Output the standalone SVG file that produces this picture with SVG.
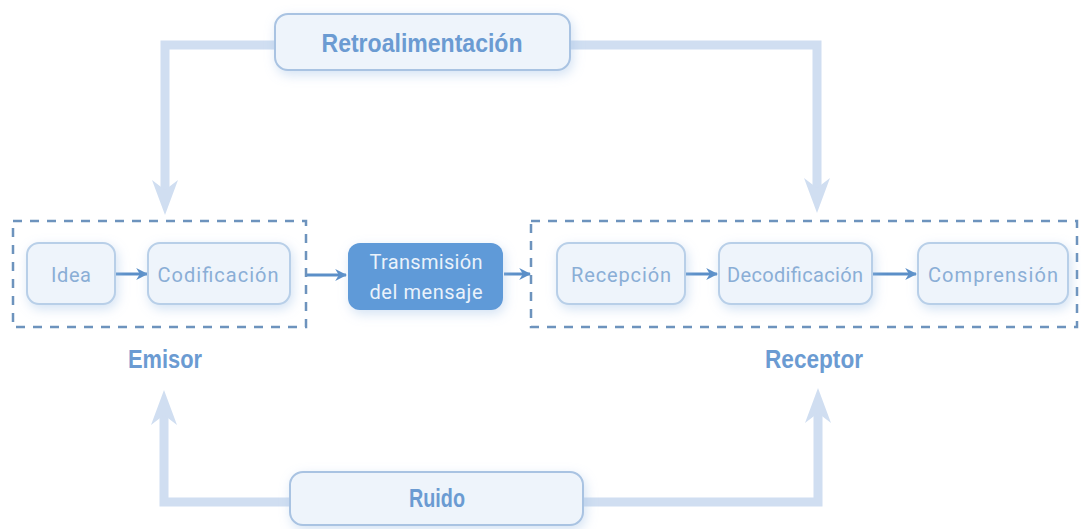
<svg xmlns="http://www.w3.org/2000/svg" width="1081" height="529" viewBox="0 0 1081 529">
<defs>
<filter id="glow" x="-30%" y="-40%" width="160%" height="180%">
<feGaussianBlur in="SourceAlpha" stdDeviation="6"/>
<feOffset dx="2" dy="4" result="b"/>
<feFlood flood-color="#9ebfe6" flood-opacity="0.45"/>
<feComposite in2="b" operator="in"/>
<feMerge><feMergeNode/><feMergeNode in="SourceGraphic"/></feMerge>
</filter>
<marker id="ah" viewBox="0 0 10 10" refX="9" refY="5" markerWidth="4" markerHeight="4" orient="auto" markerUnits="strokeWidth">
<path d="M0,0 L10,5 L0,10 L3,5 Z" fill="#5b8fc8"/>
</marker>
<style>
.big{fill:none;stroke:#d0def1;stroke-width:9}
.head{fill:#d0def1}
.small{fill:none;stroke:#5b8fc8;stroke-width:3;marker-end:url(#ah)}
.dash{fill:none;stroke:#6d93bd;stroke-width:2.5;stroke-dasharray:9 8}
.node{fill:#eef4fb;stroke:#b8cfe8;stroke-width:2;filter:url(#glow)}
.big-node{fill:#eef4fb;stroke:#a9c3e2;stroke-width:2;filter:url(#glow)}
.lbl{font-family:Roboto,"Liberation Sans",sans-serif;font-size:20px;fill:#8aaed6;text-anchor:middle}
.ttl{font-family:"Liberation Sans",Arial,sans-serif;font-weight:bold;font-size:25px;fill:#6b9bd2;text-anchor:middle}
</style>
</defs>
<rect width="1081" height="529" fill="#ffffff"/>
<g id="connectors">
<path class="big" d="M275,45 H165 V192"/>
<polygon class="head" points="165,215 152,180 165,190 178,180"/>
<path class="big" d="M570,45 H817 V190"/>
<polygon class="head" points="817,213 804,178 817,188 830,178"/>
<path class="big" d="M290,502 H164 V412"/>
<polygon class="head" points="164,390 151,425 164,415 177,425"/>
<path class="big" d="M583,502 H818 V412"/>
<polygon class="head" points="818,388 805,423 818,413 831,423"/>
<line class="small" x1="116" y1="274" x2="147" y2="274"/>
<line class="small" x1="307" y1="275" x2="346" y2="275"/>
<line class="small" x1="504" y1="274" x2="530" y2="274"/>
<line class="small" x1="686" y1="274" x2="717" y2="274"/>
<line class="small" x1="873" y1="274" x2="916" y2="274"/>
</g>
<g id="emisor-group">
<rect class="dash" x="13" y="221" width="293" height="106"/>
<text class="ttl" x="165" y="368" textLength="74" lengthAdjust="spacingAndGlyphs">Emisor</text>
</g>
<g id="receptor-group">
<rect class="dash" x="531" y="221" width="546" height="106"/>
<text class="ttl" x="814" y="368" textLength="98" lengthAdjust="spacingAndGlyphs">Receptor</text>
</g>
<g id="retroalimentacion">
<rect class="big-node" x="275" y="14" width="295" height="56" rx="13"/>
<text class="ttl" x="422" y="52" font-size="26" textLength="201" lengthAdjust="spacingAndGlyphs">Retroalimentación</text>
</g>
<g id="ruido">
<rect class="big-node" x="290" y="472" width="293" height="53" rx="13"/>
<text class="ttl" x="437" y="507" textLength="56" lengthAdjust="spacingAndGlyphs">Ruido</text>
</g>
<g id="idea">
<rect class="node" x="27" y="243" width="88" height="61" rx="12"/>
<text class="lbl" x="71" y="282" textLength="40">Idea</text>
</g>
<g id="codificacion">
<rect class="node" x="148" y="243" width="142" height="61" rx="12"/>
<text class="lbl" x="218" y="282" textLength="121">Codificación</text>
</g>
<g id="transmision">
<rect x="348" y="243" width="155" height="67" rx="12" fill="#5f9ad8" filter="url(#glow)"/>
<text class="lbl" x="426" y="269" style="fill:#eaf2fb" textLength="113">Transmisión</text>
<text class="lbl" x="426" y="299" style="fill:#eaf2fb" textLength="113">del mensaje</text>
</g>
<g id="recepcion">
<rect class="node" x="557" y="243" width="128" height="61" rx="12"/>
<text class="lbl" x="621" y="282" textLength="100">Recepción</text>
</g>
<g id="decodificacion">
<rect class="node" x="719" y="243" width="153" height="61" rx="12"/>
<text class="lbl" x="795" y="282" textLength="136">Decodificación</text>
</g>
<g id="comprension">
<rect class="node" x="918" y="243" width="150" height="61" rx="12"/>
<text class="lbl" x="993" y="282" textLength="130">Comprensión</text>
</g>
</svg>
